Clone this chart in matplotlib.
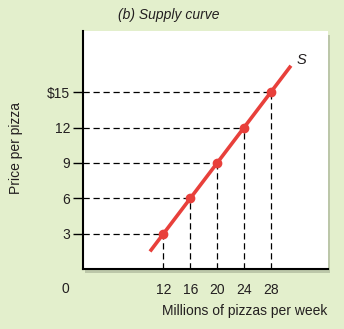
import matplotlib.pyplot as plt
from matplotlib.patches import Rectangle

# Data
quantity = [12, 16, 20, 24, 28]          # millions of pizzas per week
price = [3, 6, 9, 12, 15]                # dollars per pizza
line_q = [10, 31]                        # supply curve extent
line_p = [1.5, 17.25]
y_ticks = [3, 6, 9, 12, 15]
y_labels = ["3", "6", "9", "12", "$15"]
x_labels = ["12", "16", "20", "24", "28"]

bg = "#e3efcc"
red = "#e8403b"
ink = "#231f20"

plt.rcParams["font.family"] = ["Liberation Sans", "DejaVu Sans"]

fig = plt.figure(figsize=(3.44, 3.29), dpi=100, facecolor=bg)
ax = fig.add_axes([0.241, 0.182, 0.712, 0.724])

# drop shadow behind the white panel
shadow = Rectangle((0.247, 0.170), 0.712, 0.724, transform=fig.transFigure,
                   facecolor="#bcc7a9", edgecolor="none", zorder=-2)
fig.patches.append(shadow)

ax.set_facecolor("white")
ax.set_xlim(0, 36.5)
ax.set_ylim(0, 20.2)

for q, p in zip(quantity, price):
    ax.plot([0, q], [p, p], color="black", lw=0.9, ls=(0, (5, 3)), zorder=1)
    ax.plot([q, q], [0, p], color="black", lw=0.9, ls=(0, (5, 3)), zorder=1)

ax.plot(line_q, line_p, color=red, lw=2.6, solid_capstyle="butt", zorder=3)
ax.plot(quantity, price, "o", color=red, ms=6, zorder=4)
ax.text(32.6, 17.7, "S", style="italic", fontsize=10.5, color=ink, va="center", ha="center")

ax.set_xticks(quantity)
ax.set_xticklabels(x_labels)
ax.set_yticks(y_ticks)
ax.set_yticklabels(y_labels)
ax.tick_params(axis="x", length=0, pad=10, labelsize=10, labelcolor=ink)
ax.tick_params(axis="y", length=7, width=1, pad=2, labelsize=10, labelcolor=ink)

for side in ["top", "right"]:
    ax.spines[side].set_visible(False)
for side in ["left", "bottom"]:
    ax.spines[side].set_linewidth(1.5)

ax.text(-0.073, -0.084, "0", transform=ax.transAxes, fontsize=10, color=ink,
        ha="center", va="center")
ax.set_xlabel("Millions of pizzas per week", fontsize=10, color=ink, labelpad=5,
              loc="right")
fig.text(0.046, 0.55, "Price per pizza", rotation=90, fontsize=10, color=ink,
         ha="center", va="center")
fig.text(0.491, 0.955, "(b) Supply curve", style="italic", fontsize=10, color=ink,
         ha="center", va="center")

fig.savefig("out.png", dpi=100, facecolor=bg)
